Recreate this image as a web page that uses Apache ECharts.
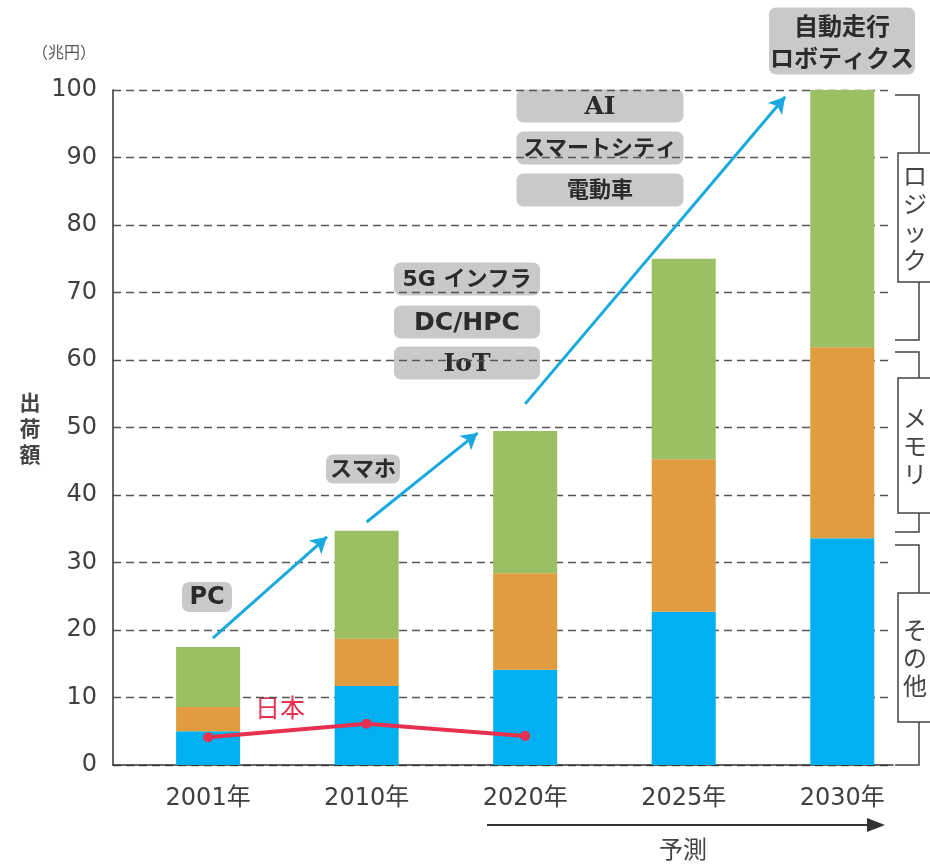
<!DOCTYPE html>
<html>
<head>
<meta charset="utf-8">
<script src="https://cdn.jsdelivr.net/npm/echarts@6/dist/echarts.min.js"></script>
<style>
  html, body { margin: 0; padding: 0; background: #fff; }
  #chart { width: 930px; height: 866px; }
</style>
</head>
<body>
<div id="chart"></div>
<script>
// data
const categories = ['2001年', '2010年', '2020年', '2025年', '2030年']
const otherValues = [5.0, 11.7, 14.1, 22.7, 33.6]   // その他 (blue)
const memoryValues = [3.6, 7.0, 14.3, 22.6, 28.3]   // メモリ (orange)
const logicValues = [8.9, 16.0, 21.1, 29.7, 38.1]   // ロジック (green)
const japanValues = [4.1, 6.1, 4.3]                 // 日本
const yTicks = [0, 10, 20, 30, 40, 50, 60, 70, 80, 90, 100]

// growth arrows, in data units [x, y]
const arrows = [
  [[0.03, 18.8], [0.75, 33.8]],
  [[1.0, 36.0], [1.70, 49.2]],
  [[2.0, 53.5], [3.64, 99.0]]
]

const cjk = '"Noto Sans CJK JP", sans-serif'
const font = '"DejaVu Sans", ' + cjk
const textColor = '#404040'

// value first, then position, so the stack runs on the value
function bars(arr) {
  return arr.map((v, i) => [v, i])
}

// gray rounded tag
function tag(text, cx, cy, w, h, f) {
  return {
    type: 'group',
    children: [
      {
        type: 'rect',
        shape: { x: cx - w / 2, y: cy - h / 2, width: w, height: h, r: 7 },
        style: { fill: '#c9c9c9' }
      },
      {
        type: 'text',
        style: {
          text: text, x: cx, y: cy + 1, align: 'center', verticalAlign: 'middle',
          fill: '#2b2b2b', font: f || ('bold 22px ' + font), lineHeight: 32
        }
      }
    ]
  }
}

// bracket on the right side with a boxed label
function bracket(label, top, bottom, boxTop, boxBottom) {
  const line = { stroke: '#444', lineWidth: 1.5, fill: null }
  return {
    type: 'group',
    children: [
      { type: 'polyline', shape: { points: [[895, top], [919, top], [919, boxTop]] }, style: line },
      { type: 'polyline', shape: { points: [[919, boxBottom], [919, bottom], [895, bottom]] }, style: line },
      {
        type: 'rect',
        shape: { x: 898, y: boxTop, width: 40, height: boxBottom - boxTop },
        style: { fill: '#fff', stroke: '#444', lineWidth: 1.5 }
      },
      {
        type: 'text',
        style: {
          text: label.split('').join('\n'), x: 903, y: (boxTop + boxBottom) / 2,
          align: 'left', verticalAlign: 'middle',
          fill: '#444', font: '24px ' + cjk, lineHeight: 28
        }
      }
    ]
  }
}

const chart = echarts.init(document.getElementById('chart'))

const barBase = { type: 'bar', stack: 'total', barWidth: 64, encode: { x: 1, y: 0 } }

chart.setOption({
  animation: false,
  textStyle: { fontFamily: font },
  grid: { left: 113, right: 37, top: 90, bottom: 101 },
  xAxis: {
    type: 'value',
    min: -0.6,
    max: 4.32,
    axisLine: { show: true, onZero: false, lineStyle: { color: '#333', width: 1.5 } },
    axisTick: { show: false },
    splitLine: { show: false },
    axisLabel: {
      customValues: [0, 1, 2, 3, 4],
      formatter: v => categories[Math.round(v)],
      color: textColor,
      fontSize: 24,
      margin: 22
    }
  },
  yAxis: {
    type: 'value',
    min: yTicks[0],
    max: yTicks[yTicks.length - 1],
    interval: 10,
    axisLine: { show: true, onZero: false, lineStyle: { color: '#333', width: 1.5 } },
    axisTick: { show: false },
    axisLabel: { color: textColor, fontSize: 24, margin: 16 },
    splitLine: { lineStyle: { color: '#555', type: [8, 5], width: 1.3 } }
  },
  series: [
    Object.assign({ name: 'その他', itemStyle: { color: '#00b0f0' }, data: bars(otherValues) }, barBase),
    Object.assign({ name: 'メモリ', itemStyle: { color: '#e09c3e' }, data: bars(memoryValues) }, barBase),
    Object.assign({ name: 'ロジック', itemStyle: { color: '#9dbf63' }, data: bars(logicValues) }, barBase),
    {
      name: '日本', type: 'line', z: 5,
      symbol: 'circle', symbolSize: 10,
      lineStyle: { color: '#e8304f', width: 4 },
      itemStyle: { color: '#e8304f' },
      data: japanValues.map((v, i) => [i, v]),
      markLine: {
        silent: true,
        symbol: ['none', 'arrow'],
        symbolSize: [14, 16],
        label: { show: false },
        lineStyle: { color: '#1aa9de', width: 3, type: 'solid' },
        data: arrows.map(a => [{ coord: a[0] }, { coord: a[1] }])
      }
    }
  ],
  graphic: [
    {
      type: 'text',
      style: { text: '（兆円）', x: 64, y: 52, align: 'center', verticalAlign: 'middle', fill: '#555', font: '16px ' + cjk }
    },
    {
      type: 'text',
      style: { text: '出\n荷\n額', x: 30, y: 428, align: 'center', verticalAlign: 'middle', fill: '#444', font: 'bold 21px ' + cjk, lineHeight: 26 }
    },
    {
      type: 'text',
      style: { text: '日本', x: 280, y: 707, align: 'center', verticalAlign: 'middle', fill: '#e8304f', font: '25px ' + cjk }
    },
    tag('PC', 207, 597, 50, 30, 'bold 24px ' + font),
    tag('スマホ', 363, 469, 74, 29),
    tag('5G インフラ', 467, 279, 146, 33),
    tag('DC/HPC', 467, 322, 146, 33, 'bold 25px ' + font),
    tag('IoT', 467, 363, 146, 33, 'bold 25px "DejaVu Serif", serif'),
    tag('AI', 600, 106, 167, 33, 'bold 25px "DejaVu Serif", serif'),
    tag('スマートシティ', 600, 148, 167, 33),
    tag('電動車', 600, 190, 167, 33),
    tag('自動走行\nロボティクス', 842, 41, 146, 67, 'bold 24px ' + cjk),
    bracket('ロジック', 95, 340, 153, 282),
    bracket('メモリ', 352, 532, 378, 513),
    bracket('その他', 545, 765, 593, 722),
    {
      type: 'line',
      shape: { x1: 487, y1: 825, x2: 870, y2: 825 },
      style: { stroke: '#333', lineWidth: 2 }
    },
    {
      type: 'polygon',
      shape: { points: [[867, 818], [885, 825], [867, 832]] },
      style: { fill: '#333' }
    },
    {
      type: 'text',
      style: { text: '予測', x: 683, y: 849, align: 'center', verticalAlign: 'middle', fill: '#444', font: '24px ' + cjk }
    }
  ]
})
</script>
</body>
</html>
